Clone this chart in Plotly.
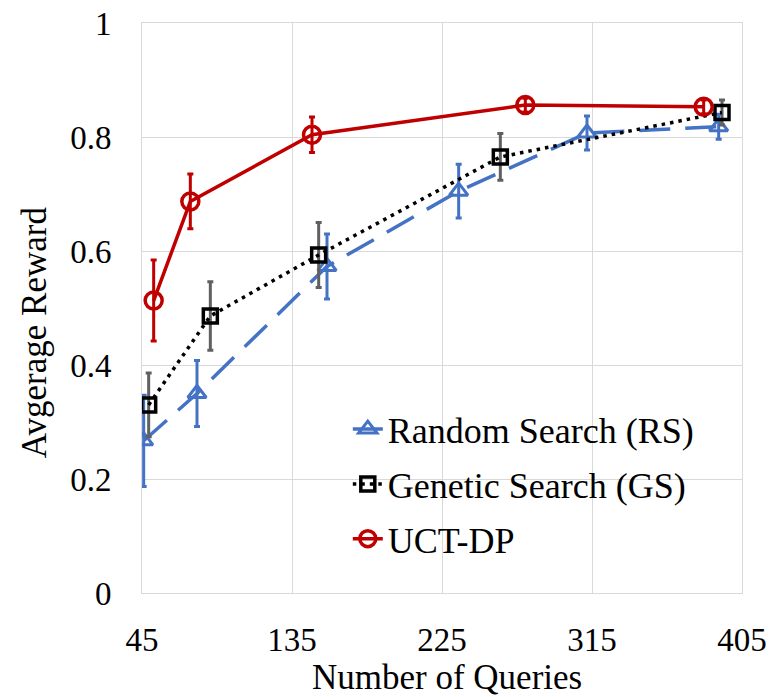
import plotly.graph_objects as go

# Average reward vs. number of queries for three search strategies
rs_x = [46, 78, 156, 235, 312, 391]
rs_y = [0.267, 0.350, 0.573, 0.705, 0.807, 0.818]
rs_err = [0.080, 0.058, 0.057, 0.047, 0.030, 0.022]

gs_x = [49, 86, 151, 260, 393]
gs_y = [0.330, 0.486, 0.593, 0.765, 0.843]
gs_err = [0.056, 0.060, 0.057, 0.041, 0.022]

uct_x = [52, 74, 147, 275, 382]
uct_y = [0.513, 0.687, 0.804, 0.856, 0.853]
uct_err = [0.071, 0.048, 0.031, 0.012, 0.012]

x_ticks = [45, 135, 225, 315, 405]
y_ticks = [0, 0.2, 0.4, 0.6, 0.8, 1]
y_ticktext = ["0", "0.2", "0.4", "0.6", "0.8", "1"]

BLUE = "#4472C4"
RED = "#C00000"
FONT = "'Liberation Serif', 'Times New Roman', Times, serif"

fig = go.Figure()

fig.add_trace(go.Scatter(
    x=rs_x, y=rs_y, name="Random Search (RS)", legendgroup="rs",
    mode="lines+markers",
    line=dict(color=BLUE, width=3.5, dash="31px,15px"),
    marker=dict(symbol="triangle-up-open", size=16, color=BLUE,
                line=dict(width=3, color=BLUE)),
    error_y=dict(type="data", array=rs_err, visible=True,
                 color=BLUE, thickness=3, width=3),
))

fig.add_trace(go.Scatter(
    x=gs_x, y=gs_y, name="Genetic Search (GS)", legendgroup="gs",
    mode="lines+markers",
    line=dict(color="black", width=3.5, dash="3.5px,5px"),
    marker=dict(symbol="square-open", size=14, color="black",
                line=dict(width=3.5, color="black")),
    error_y=dict(type="data", array=gs_err, visible=True,
                 color="#606060", thickness=3, width=3),
))

fig.add_trace(go.Scatter(
    x=uct_x, y=uct_y, name="UCT-DP", legendgroup="uct",
    mode="lines+markers",
    line=dict(color=RED, width=3.5),
    marker=dict(symbol="circle-open", size=17, color=RED,
                line=dict(width=3.5, color=RED)),
    error_y=dict(type="data", array=uct_err, visible=True,
                 color=RED, thickness=3, width=3),
))

grid = "#d9d9d9"
fig.update_layout(
    width=784, height=697,
    margin=dict(l=142, r=42, t=23, b=104),
    paper_bgcolor="white", plot_bgcolor="white",
    font=dict(family=FONT, color="black"),
    showlegend=True,
    legend=dict(
        x=0.343, y=0.340, xanchor="left", yanchor="top",
        bgcolor="rgba(0,0,0,0)", font=dict(family=FONT, size=36, color="black"),
        itemwidth=30, tracegroupgap=5, traceorder="grouped",
    ),
    xaxis=dict(
        range=[45, 405], tickvals=x_ticks, ticks="", automargin=False,
        showgrid=True, gridcolor=grid, gridwidth=1, zeroline=False,
        showline=True, linecolor=grid, linewidth=1, mirror=True,
        tickfont=dict(family=FONT, size=33, color="black"),
        ticklabelstandoff=17,
    ),
    yaxis=dict(
        range=[0, 1], tickvals=y_ticks, ticktext=y_ticktext, ticks="", automargin=False,
        showgrid=True, gridcolor=grid, gridwidth=1, zeroline=False,
        showline=True, linecolor=grid, linewidth=1, mirror=True,
        tickfont=dict(family=FONT, size=33, color="black"),
        ticklabelstandoff=23,
    ),
    annotations=[
        dict(text="Number of Queries", xref="paper", yref="paper",
             x=0.508, y=-0.148, xanchor="center", yanchor="middle",
             showarrow=False, font=dict(family=FONT, size=35, color="black")),
        dict(text="Avgerage Reward", xref="paper", yref="paper",
             x=-0.178, y=0.458, xanchor="center", yanchor="middle", textangle=-90,
             showarrow=False, font=dict(family=FONT, size=35, color="black")),
    ],
)

fig.write_html("out.html")
